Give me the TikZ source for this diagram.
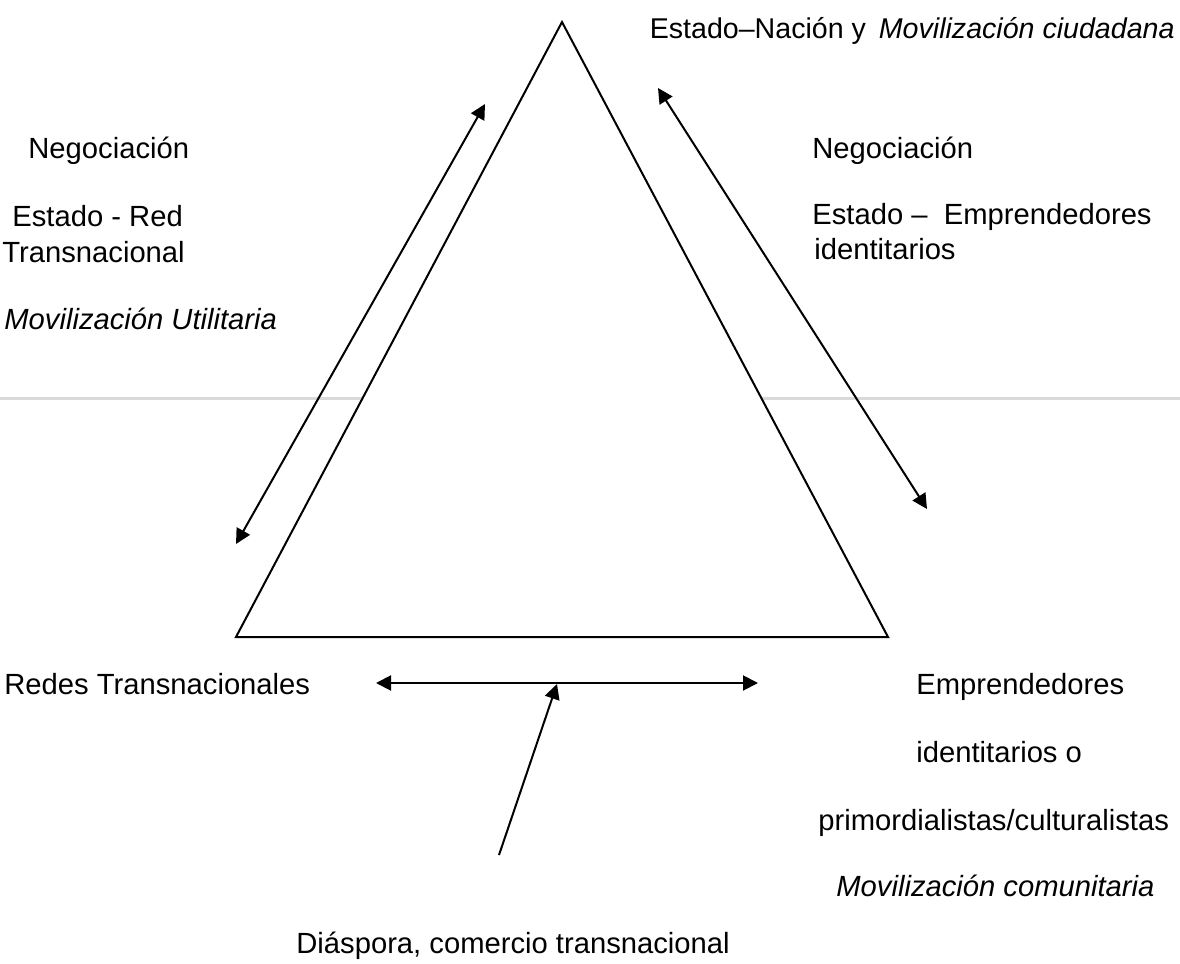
\documentclass[tikz,border=0pt]{standalone}
\usepackage{fontspec}
\setmainfont{Liberation Sans}
\usetikzlibrary{arrows.meta}
\begin{document}
\begin{tikzpicture}[x=0.5pt,y=-0.5pt,
  lbl/.style={anchor=base west,inner sep=0pt,font=\fontsize{14.6pt}{17pt}\selectfont},
  ilbl/.style={lbl,font=\fontsize{14.6pt}{17pt}\selectfont\itshape},
  conn/.style={line width=1pt,-{Triangle[length=7.5pt,width=7.5pt]}},
  dconn/.style={line width=1pt,{Triangle[length=7.5pt,width=7.5pt]}-{Triangle[length=7.5pt,width=7.5pt]}},
  tri/.style={line width=1pt,fill=white,line join=miter},
  rule/.style={line width=1.5pt,draw=black!15}]
\useasboundingbox (0,0) rectangle (1180,964);
% page rule
\coordinate (rl) at (0,398);
\coordinate (rr) at (1180,398);
\draw[rule] (rl) -- (rr);
% triangle
\coordinate (A) at (562,22);
\coordinate (B) at (236,637);
\coordinate (C) at (888,637);
\draw[tri] (A) -- (B) -- (C) -- cycle;
% arrow end points
\coordinate (l1) at (485,104);
\coordinate (l2) at (236,544);
\coordinate (r1) at (658,88);
\coordinate (r2) at (927,509);
\coordinate (h1) at (376,683);
\coordinate (h2) at (758,683);
\coordinate (u1) at (499,855);
\coordinate (u2) at (557,684);
\draw[dconn] (l2) -- (l1);
\draw[dconn] (r1) -- (r2);
\draw[dconn] (h1) -- (h2);
\draw[conn] (u1) -- (u2);
% labels
\node[lbl,anchor=base east,font=\fontsize{14.3pt}{17pt}\selectfont] (top) at (1175,38) {Estado–Nación y\hspace{0.45em}\textit{Movilización ciudadana}};
\node[lbl] (ln) at (28,158) {Negociación};
\node[lbl] (le) at (12,226) {Estado - Red};
\node[lbl] (lt) at (2,262) {Transnacional};
\node[ilbl] (lm) at (4,329) {Movilización Utilitaria};
\node[lbl] (rn) at (812,158) {Negociación};
\node[lbl] (re) at (812,224) {Estado –\ \ Emprendedores};
\node[lbl] (ri) at (814,259) {identitarios};
\node[lbl] (rt) at (4,694) {Redes Transnacionales};
\node[lbl] (e1) at (916,694) {Emprendedores};
\node[lbl] (e2) at (916,762) {identitarios o};
\node[lbl] (e3) at (818,830) {primordialistas/culturalistas};
\node[ilbl] (e4) at (836,896) {Movilización comunitaria};
\node[lbl] (d) at (296,953) {Diáspora, comercio transnacional};
\end{tikzpicture}
\end{document}
